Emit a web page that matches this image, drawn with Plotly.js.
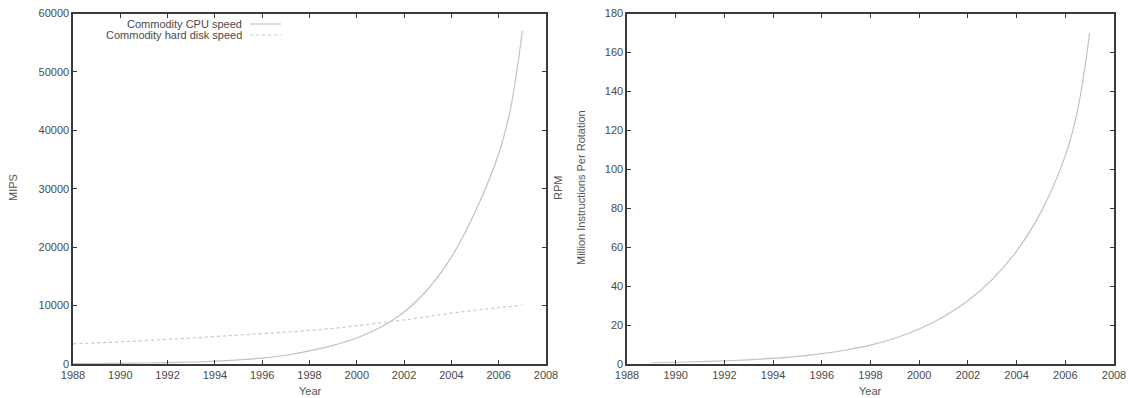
<!DOCTYPE html>
<html>
<head>
<meta charset="utf-8">
<script src="https://cdn.plot.ly/plotly-3.0.1.min.js"></script>
<style>html,body{margin:0;padding:0;background:#fff;}#chart{width:1128px;height:398px;}</style>
</head>
<body>
<div id="chart"></div>
<script>
// Left panel: commodity CPU speed (MIPS) and hard disk speed (RPM)
var cpuYears = [1988,1989,1990,1991,1992,1993,1994,1995,1996,1997,1998,1999,2000,2001,2002,2003,2004,2005,2006,2006.5,2007];
var cpuMips  = [60,85,120,170,240,340,480,700,1000,1500,2250,3200,4450,6300,8900,12800,18300,26000,36000,43700,57000];
var diskYears = [1988,1989,1990,1991,1992,1993,1994,1995,1996,1997,1998,1999,2000,2001,2002,2003,2004,2005,2006,2007];
var diskRpm   = [3450,3620,3800,4000,4230,4450,4700,4950,5200,5450,5750,6100,6550,7050,7550,8100,8700,9200,9650,10050];
// Right panel: million instructions per rotation
var mipYears = [1989,1990,1991,1992,1993,1994,1995,1996,1997,1998,1999,2000,2001,2002,2003,2004,2005,2006,2006.5,2007];
var mipValues = [0.65,0.9,1.2,1.6,2.15,2.9,3.9,5.3,7.2,9.7,13.2,18.0,24.3,32.5,43.5,58,78,107,130,170];

var xTicks = [1988,1990,1992,1994,1996,1998,2000,2002,2004,2006,2008];
var leftYTicks = [0,10000,20000,30000,40000,50000,60000];
var rightYTicks = [0,20,40,60,80,100,120,140,160,180];
var legendLabels = ['Commodity CPU speed','Commodity hard disk speed'];

var W = 1128, H = 398;
function px(x){return x/W;}
function py(y){return (H-y)/H;}

var FONT = 'Liberation Sans, Arial, sans-serif';
var axisBase = {
  showline:true, mirror:'ticks', linecolor:'#3a3a3a', linewidth:1.6,
  ticks:'inside', ticklen:4, tickcolor:'#3a3a3a', tickwidth:1,
  showgrid:false, zeroline:false,
  tickfont:{family:FONT, size:11, color:'#4a4a4a'}
};
function ax(extra){var o=JSON.parse(JSON.stringify(axisBase)); for(var k in extra){o[k]=extra[k];} return o;}

var traces = [
  {x:cpuYears, y:cpuMips, type:'scatter', mode:'lines', name:legendLabels[0],
   line:{color:'#c2c2c2', width:1.2, shape:'spline'}, xaxis:'x', yaxis:'y'},
  {x:diskYears, y:diskRpm, type:'scatter', mode:'lines', name:legendLabels[1],
   line:{color:'#c8c8c8', width:1.2, dash:'dot', shape:'spline'}, xaxis:'x', yaxis:'y'},
  {x:mipYears, y:mipValues, type:'scatter', mode:'lines', name:'Million Instructions Per Rotation',
   line:{color:'#c2c2c2', width:1.2, shape:'spline'}, xaxis:'x2', yaxis:'y2'}
];

var layout = {
  width:W, height:H, margin:{l:0,r:0,t:0,b:0},
  paper_bgcolor:'#fff', plot_bgcolor:'#fff', showlegend:false,
  font:{family:FONT, size:11, color:'#4a4a4a'},
  xaxis: ax({domain:[px(73),px(546)], range:[1988,2008], tickvals:xTicks, ticktext:xTicks.map(String), anchor:'y'}),
  yaxis: ax({domain:[py(364),py(13.5)], range:[0,60000], tickvals:leftYTicks, ticktext:leftYTicks.map(String), anchor:'x'}),
  xaxis2: ax({domain:[px(627),px(1114)], range:[1988,2008], tickvals:xTicks, ticktext:xTicks.map(String), anchor:'y2'}),
  yaxis2: ax({domain:[py(364),py(13.5)], range:[0,180], tickvals:rightYTicks, ticktext:rightYTicks.map(String), anchor:'x2'}),
  annotations:[
    {text:'Year', x:px(310), y:py(391), xref:'paper', yref:'paper', showarrow:false, xanchor:'center', yanchor:'middle', font:{family:FONT,size:11,color:'#555'}},
    {text:'Year', x:px(870), y:py(391), xref:'paper', yref:'paper', showarrow:false, xanchor:'center', yanchor:'middle', font:{family:FONT,size:11,color:'#555'}},
    {text:'MIPS', x:px(13), y:py(188), xref:'paper', yref:'paper', showarrow:false, textangle:-90, xanchor:'center', yanchor:'middle', font:{family:FONT,size:11,color:'#555'}},
    {text:'RPM', x:px(558), y:py(188), xref:'paper', yref:'paper', showarrow:false, textangle:-90, xanchor:'center', yanchor:'middle', font:{family:FONT,size:11,color:'#555'}},
    {text:'Million Instructions Per Rotation', x:px(581), y:py(188), xref:'paper', yref:'paper', showarrow:false, textangle:-90, xanchor:'center', yanchor:'middle', font:{family:FONT,size:11,color:'#555'}},
    {text:legendLabels[0], x:px(244), y:py(24), xref:'paper', yref:'paper', showarrow:false, xanchor:'right', yanchor:'middle', font:{family:FONT,size:11,color:'#4a4a4a'}},
    {text:legendLabels[1], x:px(244), y:py(35), xref:'paper', yref:'paper', showarrow:false, xanchor:'right', yanchor:'middle', font:{family:FONT,size:11,color:'#4a4a4a'}}
  ],
  shapes:[
    {type:'line', xref:'paper', yref:'paper', x0:px(250), x1:px(281), y0:py(24), y1:py(24), line:{color:'#c2c2c2', width:1.2}},
    {type:'line', xref:'paper', yref:'paper', x0:px(250), x1:px(281), y0:py(35), y1:py(35), line:{color:'#c8c8c8', width:1.2, dash:'dot'}}
  ]
};

Plotly.newPlot('chart', traces, layout, {displayModeBar:false, staticPlot:true});
</script>
</body>
</html>
